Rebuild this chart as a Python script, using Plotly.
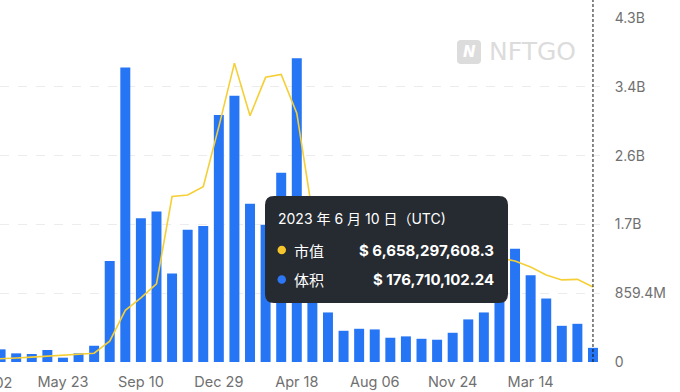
import pandas as pd
import plotly.graph_objects as go

# ---- data ----
dates = [d.strftime("%Y-%m-%d") for d in pd.date_range(end="2023-06-10", periods=40, freq="22D")]
volume_m = [120, 158, 108, 100, 150, 54, 108, 203, 1262, 3678,
            1797, 1881, 1105, 1653, 1698, 3085, 3326, 1976, 1715, 2363,
            3795, 1300, 619, 390, 415, 407, 303, 320, 290, 278,
            365, 532, 619, 1000, 1416, 1084, 793, 452, 477, 176.7]
mcap_b = [0.22, 0.26, 0.35, 0.43, 0.52, 0.58, 0.67, 0.78, 1.85, 4.58,
          5.68, 6.93, 14.67, 14.81, 15.54, 20.87, 26.50, 21.83, 25.24, 25.50,
          22.06, 13.22, 11.30, 10.61, 10.35, 10.17, 9.74, 9.57, 9.48, 9.30,
          9.39, 9.48, 9.39, 9.22, 8.96, 8.43, 7.71, 7.28, 7.33, 6.658]
tick_dates = [dates[i] for i in range(0, 40, 5)]
tick_labels = ["Feb 02", "May 23", "Sep 10", "Dec 29", "Apr 18", "Aug 06", "Nov 24", "Mar 14"]
y_tickvals = [0, 859.4e6, 1718.8e6, 2578.2e6, 3437.6e6, 4297e6]
y_ticktext = ["0", "859.4M", "1.7B", "2.6B", "3.4B", "4.3B"]

tip_title = "2023 年 6 月 10 日（UTC)"
tip_rows = [("市值", "$ 6,658,297,608.3", "#F6C42B"), ("体积", "$ 176,710,102.24", "#2D77F6")]

BLUE = "#2675F5"
YELLOW = "#F5CF35"
W, H = 680, 392
ML, MR, MT, MB = 0, 80, 18, 30
PW, PH = W - ML - MR, H - MT - MB


def px(x):
    return (x - ML) / PW


def py(y):
    return (H - MB - y) / PH


fig = go.Figure()
fig.add_trace(go.Bar(x=dates, y=[v * 1e6 for v in volume_m], marker_color=BLUE,
                     marker_line_width=0, yaxis="y", name="体积"))
fig.add_trace(go.Scatter(x=dates, y=[v * 1e9 for v in mcap_b], mode="lines",
                         line=dict(color=YELLOW, width=1.6), yaxis="y2", name="市值"))

font_axis = dict(family="Inter, Open Sans, sans-serif", size=14.5, color="#707070")
font_yaxis = dict(family="Inter, Open Sans, sans-serif", size=14, color="#707070")
fig.update_layout(
    width=W, height=H, margin=dict(l=ML, r=MR, t=MT, b=MB),
    paper_bgcolor="white", plot_bgcolor="white",
    showlegend=False, hovermode=False, bargap=0.36,
    xaxis=dict(type="category", range=[0.962, 39.45], tickvals=tick_dates, ticktext=tick_labels,
               showgrid=False, zeroline=False, showline=False, ticks="outside", ticklen=7,
               tickcolor="rgba(0,0,0,0)", tickfont=font_axis),
    yaxis=dict(side="right", range=[0, 4297e6], tickvals=y_tickvals, ticktext=y_ticktext,
               showgrid=True, gridcolor="#ececec", griddash="dash", gridwidth=1,
               zeroline=False, showline=False, ticks="outside", ticklen=11,
               tickcolor="rgba(0,0,0,0)", tickfont=font_yaxis),
    yaxis2=dict(overlaying="y", range=[0, 30.5e9], visible=False),
)

# Partially visible first tick label
fig.add_annotation(x=px(-12), y=py(382), xref="paper", yref="paper", text=tick_labels[0],
                   showarrow=False, font=font_axis, xanchor="center", yanchor="middle")

shapes = []
# hover crosshair
shapes.append(dict(type="line", xref="x", yref="paper", x0=len(dates) - 1, x1=len(dates) - 1,
                   y0=0, y1=py(0), line=dict(color="#111", width=1, dash="3px,2px"), layer="above"))


def rrect(x0, y0, x1, y1, r):
    pts = [
        ("M", [(x0 + r, y0)]), ("L", [(x1 - r, y0)]), ("Q", [(x1, y0), (x1, y0 + r)]),
        ("L", [(x1, y1 - r)]), ("Q", [(x1, y1), (x1 - r, y1)]), ("L", [(x0 + r, y1)]),
        ("Q", [(x0, y1), (x0, y1 - r)]), ("L", [(x0, y0 + r)]), ("Q", [(x0, y0), (x0 + r, y0)]),
    ]
    s = ""
    for cmd, ps in pts:
        s += cmd + " " + " ".join(f"{px(a):.5f},{py(b):.5f}" for a, b in ps) + " "
    return s + "Z"


# watermark icon
shapes.append(dict(type="path", xref="paper", yref="paper", path=rrect(457, 40, 481, 64, 4),
                   fillcolor="#dcdcdc", line=dict(width=0), layer="above"))
# tooltip box
shapes.append(dict(type="path", xref="paper", yref="paper", path=rrect(265, 196, 508, 303, 9),
                   fillcolor="#262a31", line=dict(width=0), layer="above"))
row_y = [250, 279.5]
for (lab, val, col), ry in zip(tip_rows, row_y):
    shapes.append(dict(type="circle", xref="paper", yref="paper",
                       x0=px(277.5), x1=px(286), y0=py(ry + 4.25), y1=py(ry - 4.25),
                       fillcolor=col, line=dict(width=0), layer="above"))
fig.update_layout(shapes=shapes)

tipfont = dict(family="Inter, Noto Sans CJK SC, sans-serif", size=15, color="white")
fig.add_annotation(x=px(276), y=py(219), xref="paper", yref="paper", text=tip_title,
                   showarrow=False, xanchor="left", yanchor="middle",
                   font=dict(family="Inter, Noto Sans CJK SC, sans-serif", size=14, color="white"))
for (lab, val, col), ry in zip(tip_rows, row_y):
    fig.add_annotation(x=px(292), y=py(ry), xref="paper", yref="paper", text=lab,
                       showarrow=False, xanchor="left", yanchor="middle",
                       font=dict(family="Noto Sans CJK SC, sans-serif", size=15, color="white"))
    fig.add_annotation(x=px(496), y=py(ry), xref="paper", yref="paper", text=f"<b>{val}</b>",
                       showarrow=False, xanchor="right", yanchor="middle", font=tipfont)

# watermark
fig.add_annotation(x=px(469), y=py(52), xref="paper", yref="paper", text="<i><b>N</b></i>",
                   showarrow=False, xanchor="center", yanchor="middle",
                   font=dict(family="DejaVu Sans", size=15, color="white"))
fig.add_annotation(x=px(487), y=py(52), xref="paper", yref="paper", text="NFTGO",
                   showarrow=False, xanchor="left", yanchor="middle",
                   font=dict(family="DejaVu Sans", size=25, color="#dcdcdc"))

fig.write_html("out.html", config={"displayModeBar": False},
               post_script="document.body.style.margin='0';document.body.style.overflow='hidden';")
